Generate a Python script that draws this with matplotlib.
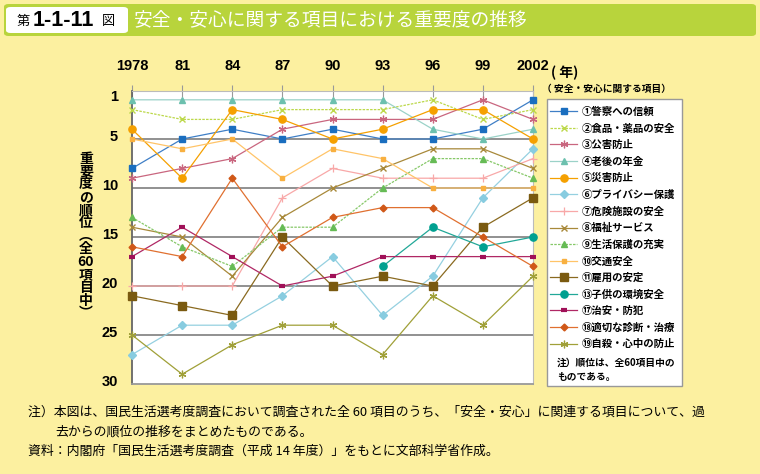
import matplotlib
matplotlib.use("Agg")
import matplotlib.pyplot as plt
import numpy as np
from matplotlib.patches import Rectangle, FancyBboxPatch
from matplotlib.transforms import ScaledTranslation

plt.rcParams['font.family'] = ['Noto Sans CJK JP', 'DejaVu Sans']

# survey years and ranks (out of 60 items)
years = [1978, 1981, 1984, 1987, 1990, 1993, 1996, 1999, 2002]
year_labels = ["1978", "81", "84", "87", "90", "93", "96", "99", "2002"]
rank_ticks = [1, 5, 10, 15, 20, 25, 30]

keisatsu = [8, 5, 4, 5, 4, 5, 5, 4, 1]
shokuhin = [2, 3, 3, 2, 2, 2, 1, 3, 2]
kougai = [9, 8, 7, 4, 3, 3, 3, 1, 3]
nenkin = [1, 1, 1, 1, 1, 1, 4, 5, 4]
saigai = [4, 9, 2, 3, 5, 4, 2, 2, 5]
privacy = [27, 24, 24, 21, 17, 23, 19, 11, 6]
kiken = [20, 20, 20, 11, 8, 9, 9, 9, 7]
fukushi = [14, 15, 19, 13, 10, 8, 6, 6, 8]
seikatsu = [13, 16, 18, 14, 14, 10, 7, 7, 9]
koutsu = [5, 6, 5, 9, 6, 7, 10, 10, 10]
koyou = [21, 22, 23, 15, 20, 19, 20, 14, 11]
kodomo = [np.nan, np.nan, np.nan, np.nan, np.nan, 18, 14, 16, 15]
chian = [17, 14, 17, 20, 19, 17, 17, 17, 17]
shindan = [16, 17, 9, 16, 13, 12, 12, 15, 18]
jisatsu = [25, 29, 26, 24, 24, 27, 21, 24, 19]

labels = ["①警察への信頼", "②食品・薬品の安全", "③公害防止", "④老後の年金",
          "⑤災害防止", "⑥プライバシー保護", "⑦危険施設の安全", "⑧福祉サービス",
          "⑨生活保護の充実", "⑩交通安全", "⑪雇用の安定", "⑬子供の環境安全",
          "⑰治安・防犯", "⑱適切な診断・治療", "⑲自殺・心中の防止"]
series = [keisatsu, shokuhin, kougai, nenkin, saigai, privacy, kiken, fukushi,
          seikatsu, koutsu, koyou, kodomo, chian, shindan, jisatsu]

ast = (6, 2, 0)
styles = [
    dict(color='#3f7fc6', marker='s', ms=5, mfc='#1a6ebf', mec='#1a6ebf'),
    dict(color='#bcd84a', marker='x', ms=4.5, mew=1.0, ls=(0, (2, 1))),
    dict(color='#c9667f', marker=ast, ms=5.5, mew=0.9),
    dict(color='#9bd2c8', marker='^', ms=5, mfc='#6cc0ae', mec='#6cc0ae'),
    dict(color='#f5a000', marker='o', ms=5.2),
    dict(color='#95d0e0', marker='D', ms=3.8, mfc='#88cce0', mec='#88cce0'),
    dict(color='#f8a8a8', marker='+', ms=6, mew=0.9),
    dict(color='#a8893a', marker='x', ms=4.5, mew=1.0),
    dict(color='#86c868', marker='^', ms=5, mfc='#66bb55', mec='#66bb55', ls=(0, (2, 1))),
    dict(color='#ffc468', marker='s', ms=2.6, mfc='#f8b040', mec='#f8b040'),
    dict(color='#8a6a20', marker='s', ms=5.2, mfc='#7a5a10', mec='#7a5a10'),
    dict(color='#22a898', marker='o', ms=5.2, mfc='#00a090', mec='#00a090'),
    dict(color='#b02865', marker='_', ms=5, mew=3.0, mec='#a01058'),
    dict(color='#e07030', marker='D', ms=3.5, mfc='#d05818', mec='#d05818'),
    dict(color='#a0a038', marker=ast, ms=5.5, mew=0.9),
]

W, H = 760, 474
fig = plt.figure(figsize=(W / 100, H / 100), dpi=100, facecolor='#fcf0a0')


def fx(x):
    return x / W


def fy(y):
    return 1 - y / H


# title bar
fig.patches.append(FancyBboxPatch((fx(4), fy(36)), fx(752), 32 / H,
                                  boxstyle="round,pad=0,rounding_size=0.006",
                                  transform=fig.transFigure, fc='#b8d43c', ec='none'))
fig.patches.append(FancyBboxPatch((fx(6), fy(33)), fx(122), 26 / H,
                                  boxstyle="round,pad=0,rounding_size=0.006",
                                  transform=fig.transFigure, fc='white', ec='none'))
fig.text(fx(17), fy(21), "第", fontsize=9.5, va='center', ha='left')
fig.text(fx(33), fy(21), "1-1-11", fontsize=15.5, fontweight='bold',
         family='Liberation Sans', va='center', ha='left')
fig.text(fx(102), fy(21), "図", fontsize=9.5, va='center', ha='left')
fig.text(fx(134), fy(20), "安全・安心に関する項目における重要度の推移", fontsize=13.5,
         color='white', va='center', ha='left')

# main axes
ax = fig.add_axes([fx(132), fy(384), 401 / W, 293.5 / H])
ax.set_facecolor('white')
for yv in [5, 10, 15, 20, 25]:
    ax.axhline(yv, color='#888888', lw=1.3, zorder=1)

lines = []
for vals, st in zip(series, styles):
    st = dict(st)
    ls = st.pop('ls', '-')
    ln, = ax.plot(years, vals, lw=0.9, ls=ls, clip_on=False, zorder=3, **st)
    lines.append(ln)

ax.set_xlim(1978, 2002)
ax.set_ylim(29.7, 0.05)
ax.xaxis.tick_top()
ax.set_xticks(years)
ax.set_xticklabels(year_labels, fontsize=10.5, fontweight='bold', family='Liberation Sans')
ax.set_yticks(rank_ticks)
ax.set_yticklabels([str(r) for r in rank_ticks], fontsize=10.5, fontweight='bold',
                   family='Liberation Sans')
ax.tick_params(axis='x', direction='inout', length=9, width=0.8, color='#999999', pad=8)
ax.tick_params(axis='y', length=0, pad=10)
shift = ScaledTranslation(0, 0.04, fig.dpi_scale_trans)
for t in ax.get_yticklabels():
    t.set_transform(t.get_transform() + shift)
ax.spines['left'].set_color('#666666')
ax.spines['left'].set_linewidth(1.3)
ax.spines['bottom'].set_color('#999999')
ax.spines['bottom'].set_linewidth(1.3)
ax.spines['top'].set_color('#bbbbbb')
ax.spines['right'].set_color('#bbbbbb')

fig.text(fx(551), fy(73), "( 年)", fontsize=10, fontweight='bold', va='center', ha='left')

# vertical axis label
ylab = "\n".join(["重", "要", "度", "の", "順", "位", "︵", "全", "60", "項", "目", "中", "︶"])
fig.text(fx(86), fy(236), ylab, fontsize=10, fontweight='bold', ha='center', va='center',
         linespacing=0.9)

# legend box
fig.text(fx(542), fy(89), "（ 安全・安心に関する項目）", fontsize=7, fontweight='bold',
         va='center', ha='left')
fig.patches.append(Rectangle((fx(547), fy(386)), 135 / W, 287 / H, transform=fig.transFigure,
                             fc='white', ec='#999999', lw=1.0))
leg = fig.legend(lines, labels, loc='upper left', bbox_to_anchor=(fx(550), fy(107)),
                 frameon=False, prop=dict(size=7.5, weight='bold'), handlelength=2.6,
                 handletextpad=0.4, labelspacing=0.62, borderpad=0, borderaxespad=0)
fig.text(fx(557), fy(370), "注）順位は、全60項目中の\nものである。", fontsize=7,
         fontweight='bold', va='center', ha='left', linespacing=1.5)

# notes
fig.text(fx(28), fy(412), "注）本図は、国民生活選考度調査において調査された全 60 項目のうち、「安全・安心」に関連する項目について、過",
         fontsize=9.3, va='center', ha='left')
fig.text(fx(55), fy(432), "去からの順位の推移をまとめたものである。", fontsize=9.3, va='center', ha='left')
fig.text(fx(28), fy(451), "資料：内閣府「国民生活選考度調査（平成 14 年度）」をもとに文部科学省作成。",
         fontsize=9.3, va='center', ha='left')

fig.savefig("out.png", dpi=100, facecolor=fig.get_facecolor())
